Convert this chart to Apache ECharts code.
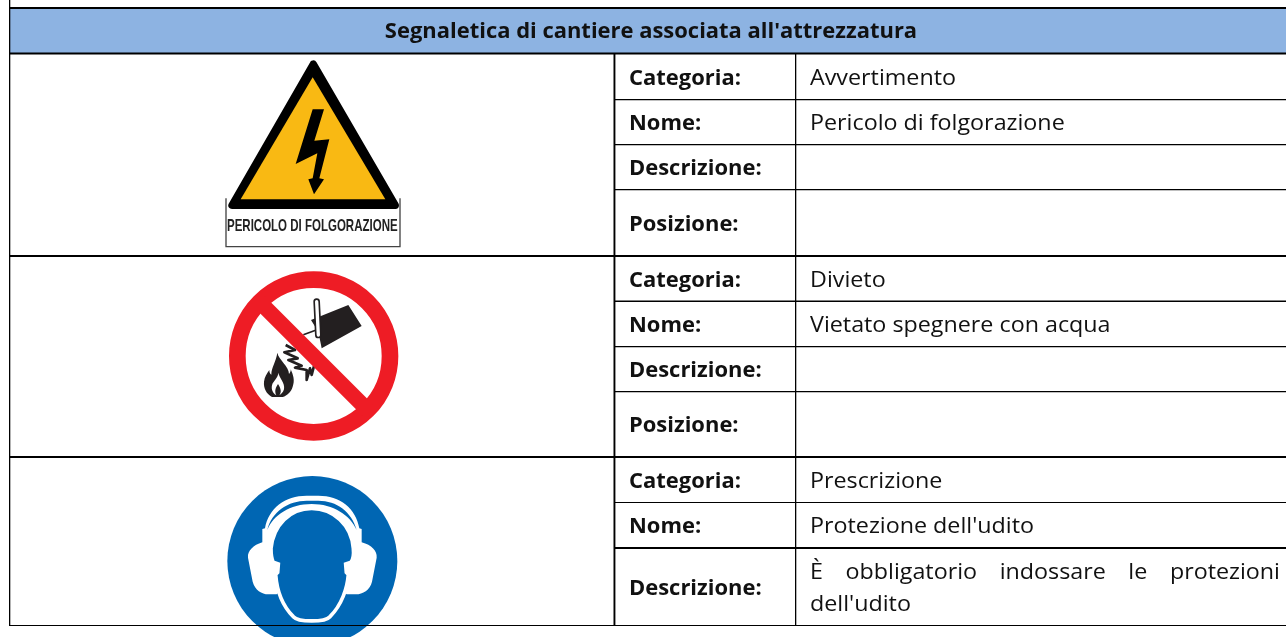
<!DOCTYPE html>
<html><head><meta charset="utf-8">
<style>html,body{margin:0;padding:0;background:#fff}#c{width:1286px;height:637px}</style>
<script src="https://cdn.jsdelivr.net/npm/echarts@6/dist/echarts.min.js"></script>
</head><body><div id="c"></div>
<script>
var title = "Segnaletica di cantiere associata all'attrezzatura";
var fieldLabels = ["Categoria:", "Nome:", "Descrizione:", "Posizione:"];
var categories = ["Avvertimento", "Divieto", "Prescrizione"];
var names = ["Pericolo di folgorazione", "Vietato spegnere con acqua", "Protezione dell'udito"];
var descriptionLine1 = ["È", "obbligatorio", "indossare", "le", "protezioni"];
var descriptionLine2 = "dell'udito";
var signCaption = "PERICOLO DI FOLGORAZIONE";

var FONT = '"Open Sans", sans-serif';
var SIZE = 21.5, BSIZE = 21, SX = 1.083, BSX = 1.045;
var INK = '#000', chart = echarts.init(document.getElementById('c'), null, {renderer: 'canvas'});
var els = [];
function rect(x, y, w, h, fill) { els.push({type: 'rect', shape: {x: x, y: y, width: w, height: h}, style: {fill: fill}, silent: true}); }
function label(x, y, str, bold) {
  els.push({type: 'text', x: x, y: y, scaleX: bold ? BSX : SX, silent: true, style: {text: str, fill: '#111', font: (bold ? 'bold ' + BSIZE : SIZE) + 'px ' + FONT, verticalAlign: 'middle'}});
}
// header
rect(10, 8, 1276, 45, '#8db3e2');

// signs, each drawn in its own local frame (3x units)
var pathCount = 0;
function group(ox, oy, children) { return {type: 'group', x: ox, y: oy, scaleX: 1/3, scaleY: 1/3, silent: true, children: children}; }
function p(d, fill, extra) {
  var name = 'signPath' + (pathCount++);
  echarts.graphic.registerShape(name, echarts.graphic.extendPath(d, {}));
  var s = {fill: fill}; for (var k in (extra||{})) s[k] = extra[k];
  return {type: name, style: s};
}

// Warning sign
els.push(group(200, 50, [
  p('M78,445 L78,590 L600,590 L600,445', '#fff', {stroke: '#444', lineWidth: 4}),
  p('M340,42 L96,466 L586,466 Z', '#000', {stroke: '#000', lineWidth: 22, lineJoin: 'round'}),
  p('M338,82 L122,448 L556,448 Z', '#f9b913'),
  p('M338,178 L372,178 L343,272 L388,268 L358,385 L372,388 L342,433 L325,388 L338,385 L352,310 L287,342 Z', '#000')
]));
els.push({type: 'text', x: 227, y: 226, scaleX: 0.865, scaleY: 1.25, silent: true, style: {text: signCaption, fill: '#222', font: 'bold 13.3px "Liberation Sans", sans-serif', verticalAlign: 'middle'}});

// Prohibition sign
els.push(group(210, 260, [
  p('M303,180 L415,135 L455,198 L335,265 L325,215 Z', '#231f20'),
  p('M280,224 L325,208', 'none', {stroke: '#231f20', lineWidth: 5}),
  p('M320,125 L325,225', 'none', {stroke: '#231f20', lineWidth: 20, lineCap: 'round'}),
  p('M320,125 L325,225', 'none', {stroke: '#fff', lineWidth: 10, lineCap: 'round'}),
  p('M227,255 L255,270 L223,277 L263,295 L235,300 L275,317 L255,323 L290,330 L290,360 L300,325 L305,345 L312,318', 'none', {stroke: '#231f20', lineWidth: 8, lineJoin: 'round'}),
  p('M202,278 C206,300 237,318 237,342 C240,338 243,334 242,328 C250,345 255,362 248,380 C243,396 232,406 218,411 L186,411 C170,402 160,385 162,365 C164,350 170,342 178,330 C178,338 180,342 184,344 C184,322 198,305 202,278 Z', '#231f20'),
  p('M205,338 C208,355 226,368 222,388 C219,398 213,403 208,406 C216,395 212,385 204,372 C198,382 192,392 199,406 C186,398 182,385 188,370 C194,360 204,352 205,338 Z', '#fff'),
  p('M82,288 a229,229 0 1,0 458,0 a229,229 0 1,0 -458,0 Z', 'none', {stroke: '#ee1c25', lineWidth: 50}),
  p('M149,126 L473,450', 'none', {stroke: '#ee1c25', lineWidth: 46})
]));

// Mandatory sign
var FACE = 'M305,130 C240,130 190,180 183,250 C183,270 186,285 190,292 L205,297 L203,322 L197,328 C200,370 215,420 250,455 C265,472 345,472 360,455 C395,420 412,370 415,328 L409,322 L407,297 L423,292 C428,285 432,270 430,250 C425,180 370,130 305,130 Z';
els.push(group(210, 465, [
  {type: 'circle', shape: {cx: 307, cy: 288, r: 255}, style: {fill: '#0066b3'}},
  p('M157,232 L157,192 L165,190 C175,130 225,92 290,92 L325,92 C390,92 438,130 448,190 L455,192 L455,232 C485,240 502,258 500,278 L486,350 C480,375 458,388 438,388 L410,388 L300,300 L200,388 L175,388 C155,388 135,375 128,350 L114,278 C112,258 130,240 157,232 Z', '#fff'),
  p('M172,195 C185,140 235,107 290,107 L325,107 C380,107 425,140 440,195 C420,150 370,117 305,117 C240,117 190,150 172,195 Z', '#0066b3'),
  p(FACE, '#0066b3', {stroke: '#fff', lineWidth: 11})
]));

// grid lines: [x0, y, thickness]
var H = [[10,7,2],[10,52.5,2],[614,99,1.3],[614,144,1.3],[614,189,1.3],[10,255,2],
         [614,300.5,1.5],[614,346,1.3],[614,391,1.3],[10,456,2],[614,502,1],[614,547,2],[10,625,1]];
H.forEach(function (l) { rect(l[0], l[1], 1286 - l[0], l[2], INK); });
rect(9, 0, 1.3, 626, INK);
rect(613.5, 53, 1.9, 572, INK);
rect(795, 53, 1.3, 572, INK);

// text
els.push({type: 'text', x: 651, y: 32.5, scaleX: BSX, silent: true, style: {text: title, fill: '#111', font: 'bold ' + BSIZE + 'px ' + FONT, align: 'center', verticalAlign: 'middle'}});
var rowY = [[79,124,169,225],[281,326,371,426]];
rowY.forEach(function (ys, i) {
  ys.forEach(function (y, j) { label(629, y, fieldLabels[j], true); });
  label(810, ys[0], categories[i]);
  label(810, ys[1], names[i]);
});
label(629, 482, fieldLabels[0], true); label(810, 482, categories[2]);
label(629, 527, fieldLabels[1], true); label(810, 527, names[2]);
label(629, 589, fieldLabels[2], true);
// justified first line of the description
var mc = document.createElement('canvas').getContext('2d'); mc.font = SIZE + 'px ' + FONT;
var widths = descriptionLine1.map(function (w) { return mc.measureText(w).width * SX; });
var total = widths.reduce(function (a, b) { return a + b; }, 0);
var gap = (1280 - 810 - total) / (descriptionLine1.length - 1), cx = 810;
descriptionLine1.forEach(function (w, i) { label(cx, 573, w); cx += widths[i] + gap; });
label(810, 605, descriptionLine2);

chart.setOption({animation: false, backgroundColor: '#fff', graphic: {elements: els}});
</script></body></html>
